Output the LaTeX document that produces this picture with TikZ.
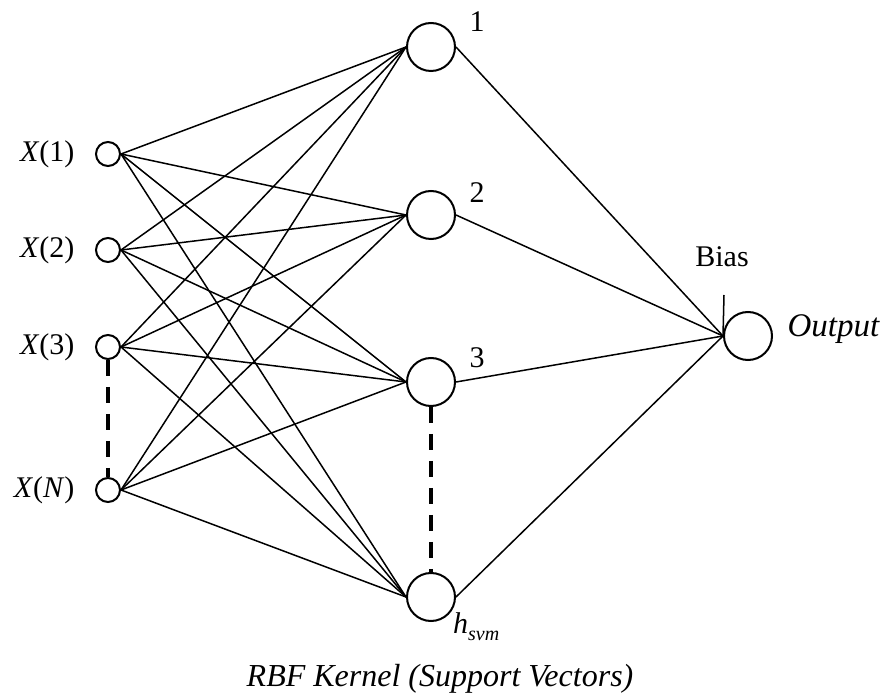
\documentclass[tikz,border=0pt]{standalone}
\usepackage{fontspec}
\setmainfont{Liberation Serif}
\begin{document}
\begin{tikzpicture}[x=1pt,y=-1pt,
  every node/.style={font=\fontsize{30}{36}\selectfont},
  inp/.style={circle,draw,line width=2pt,minimum size=24pt,inner sep=0pt},
  hid/.style={circle,draw,line width=2pt,minimum size=48pt,inner sep=0pt},
  wire/.style={line width=1.5pt},
  gap/.style={line width=3.5pt,dash pattern=on 16pt off 11pt}]
\useasboundingbox (0,0) rectangle (887,700);

% input layer
\node[inp] (x1) at (108,154) {};
\node[inp] (x2) at (108,250) {};
\node[inp] (x3) at (108,347) {};
\node[inp] (xn) at (108,490) {};
\node[anchor=east] (lx1) at (78,154) {\textit{X}(1)};
\node[anchor=east] (lx2) at (78,250) {\textit{X}(2)};
\node[anchor=east] (lx3) at (78,347) {\textit{X}(3)};
\node[anchor=east] (lxn) at (78,490) {\textit{X}(\textit{N})};

% hidden layer (RBF kernels)
\node[hid] (h1) at (431,47) {};
\node[hid] (h2) at (431,215) {};
\node[hid] (h3) at (431,382) {};
\node[hid] (h4) at (431,597) {};
\node (l1) at (477,22) {1};
\node (l2) at (477,193) {2};
\node (l3) at (477,358) {3};
\node[anchor=base west,inner sep=0pt] (l4) at (453,633)
  {\textit{h}\raisebox{-7pt}{\fontsize{20}{20}\selectfont\textit{svm}}};

% output
\node[hid] (out) at (748,336) {};
\node[anchor=west,font=\fontsize{33}{38}\selectfont] (lout) at (784,329) {\textit{Output}};
\node (lbias) at (722,257) {Bias};
\coordinate (bias) at (724,295);

% connections
\foreach \i in {x1,x2,x3,xn}
  \foreach \j in {h1,h2,h3,h4}
    \draw[wire] (\i.east) -- (\j.west);
\foreach \j in {h1,h2,h3,h4}
  \draw[wire] (\j.east) -- (out.west);
\draw[wire] (bias) -- (out.west);

% omitted units
\draw[gap] (x3.south) -- (xn.north);
\draw[gap] (h3.south) -- (h4.north);

\node[font=\fontsize{32}{38}\selectfont] (cap) at (440,679) {\textit{RBF Kernel (Support Vectors)}};
\end{tikzpicture}
\end{document}
